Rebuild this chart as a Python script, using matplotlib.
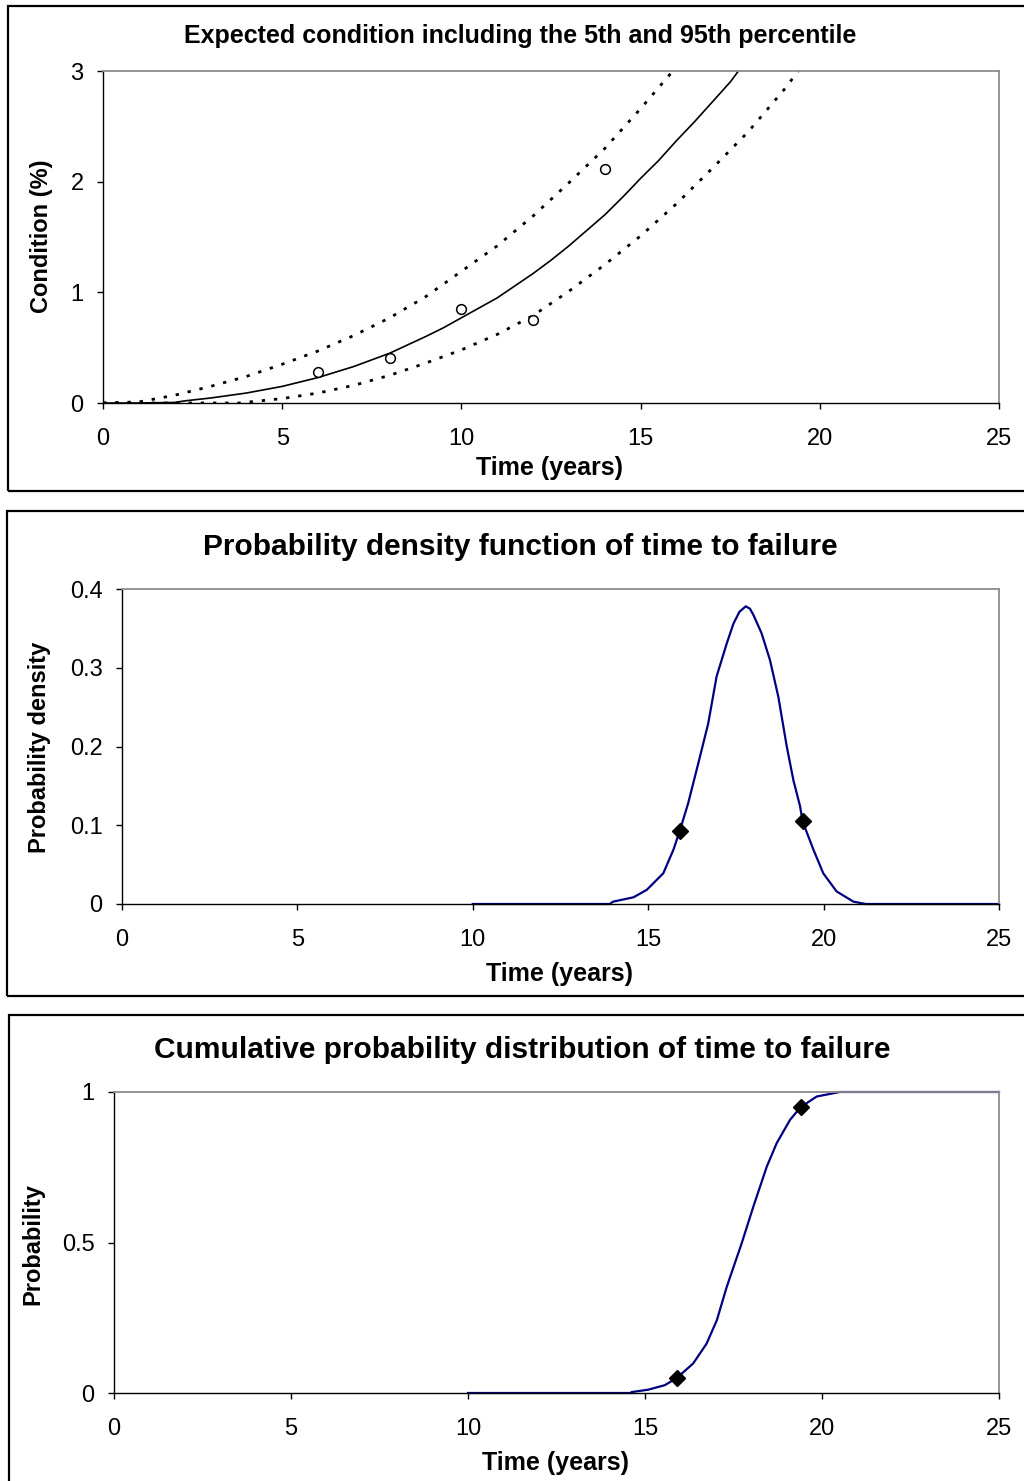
import matplotlib
matplotlib.use("Agg")
import matplotlib.pyplot as plt
from matplotlib.patches import Rectangle

# ---------------- data ----------------
# Panel 1: expected condition with 5th / 95th percentiles
mean_t = [0, 1, 2, 2.3, 3, 4, 5, 6, 7, 8, 9, 9.5, 10, 10.5, 11, 11.5, 12, 12.5,
          13, 13.5, 14, 14.5, 15, 15.5, 16, 16.5, 17, 17.5, 17.8]
mean_c = [0, 0, 0.005, 0.02, 0.045, 0.09, 0.15, 0.23, 0.33, 0.45, 0.60, 0.68,
          0.77, 0.86, 0.95, 1.06, 1.17, 1.29, 1.42, 1.56, 1.70, 1.86, 2.03,
          2.19, 2.37, 2.54, 2.72, 2.90, 3.03]
upper_t = [0, 1, 2, 3, 4, 5, 6, 7, 8, 9, 10, 11, 12, 13, 14, 15, 15.9]
upper_c = [0, 0.01, 0.07, 0.15, 0.24, 0.35, 0.47, 0.61, 0.77, 0.96, 1.19, 1.42,
           1.69, 1.99, 2.30, 2.66, 3.0]
lower_t = [0, 3.8, 5, 6, 7, 8, 9, 10, 11, 12, 13, 14, 15, 16, 17, 18, 19, 19.4]
lower_c = [0, 0, 0.04, 0.09, 0.16, 0.25, 0.36, 0.48, 0.62, 0.79, 1.01, 1.25,
           1.51, 1.80, 2.12, 2.45, 2.83, 3.0]
obs_t = [6, 8, 10, 12, 14]
obs_c = [0.28, 0.41, 0.85, 0.75, 2.11]

# Panel 2: probability density of time to failure
pdf_t = [10, 13.9, 14.0, 14.58, 14.96, 15.43, 15.72, 15.9, 16.14, 16.43, 16.71,
         16.95, 17.24, 17.43, 17.6, 17.78, 17.9, 18.0, 18.23, 18.47, 18.71, 18.95,
         19.14, 19.33, 19.4, 19.71, 19.99, 20.37, 20.85, 21.2, 25]
pdf_p = [0, 0, 0.003, 0.0085, 0.018, 0.039, 0.069, 0.093, 0.128, 0.179, 0.229,
         0.289, 0.331, 0.356, 0.371, 0.378, 0.375, 0.367, 0.344, 0.31, 0.263,
         0.20, 0.157, 0.124, 0.105, 0.069, 0.039, 0.016, 0.003, 0, 0]
pdf_mark_t = [15.9, 19.4]
pdf_mark_p = [0.093, 0.105]

# Panel 3: cumulative probability of time to failure
cdf_t = [10, 14.6, 14.62, 15.09, 15.56, 15.9, 16.36, 16.74, 17.03, 17.31, 17.73,
         18.06, 18.44, 18.72, 19.1, 19.4, 19.85, 20.5, 25]
cdf_p = [0, 0, 0.003, 0.011, 0.026, 0.05, 0.098, 0.164, 0.242, 0.353, 0.497,
         0.619, 0.752, 0.83, 0.908, 0.95, 0.985, 1.0, 1.0]
cdf_mark_t = [15.9, 19.4]
cdf_mark_p = [0.05, 0.95]

x_ticks = [0, 5, 10, 15, 20, 25]
y1_ticks = [0, 1, 2, 3]
y2_ticks = [0, 0.1, 0.2, 0.3, 0.4]
y2_labels = ["0", "0.1", "0.2", "0.3", "0.4"]
y3_ticks = [0, 0.5, 1]
y3_labels = ["0", "0.5", "1"]

titles = ["Expected condition including the 5th and 95th percentile",
          "Probability density function of time to failure",
          "Cumulative probability distribution of time to failure"]
ylabels = ["Condition (%)", "Probability density", "Probability"]
xlabel = "Time (years)"

# ---------------- layout ----------------
W, H = 1024, 1481
plt.rcParams['font.family'] = ['Liberation Sans', 'DejaVu Sans']
fig = plt.figure(figsize=(W / 100, H / 100), dpi=100)
fig.patch.set_facecolor('white')


def fx(x):
    return x / W


def fy(y):
    return 1 - y / H


def make_axes(left, right, top, bottom):
    ax = fig.add_axes([fx(left), fy(bottom), (right - left) / W, (bottom - top) / H])
    for s in ['top', 'right']:
        ax.spines[s].set_color('#8c8c8c')
        ax.spines[s].set_linewidth(1.3)
    for s in ['left', 'bottom']:
        ax.spines[s].set_color('black')
        ax.spines[s].set_linewidth(1.0)
    ax.tick_params(direction='out', length=4, width=1, labelsize=17, colors='black')
    ax.tick_params(axis='x', pad=14)
    ax.tick_params(axis='y', pad=10)
    ax.set_xlim(0, 25)
    ax.set_xticks(x_ticks)
    ax.set_xticklabels([str(v) for v in x_ticks])
    return ax


def border(top, bottom, left):
    fig.add_artist(Rectangle((fx(left), fy(bottom)), (1040 - left) / W, (bottom - top) / H,
                             transform=fig.transFigure, fill=False, ec='black',
                             lw=1.6, clip_on=False))


# Panel 1
border(6, 491, 8)
ax1 = make_axes(103, 999, 71, 403)
ax1.set_ylim(0, 3)
ax1.set_yticks(y1_ticks)
ax1.set_yticklabels([str(v) for v in y1_ticks])
ax1.plot(upper_t, upper_c, color='black', lw=2.0, ls=(0, (1.2, 3.2)))
ax1.plot(lower_t, lower_c, color='black', lw=2.0, ls=(0, (1.2, 3.2)))
ax1.plot(mean_t, mean_c, color='black', lw=1.2)
ax1.plot(obs_t, obs_c, ls='none', marker='o', ms=7, mfc='white', mec='black', mew=1.1)
fig.text(fx(520), fy(36), titles[0], ha='center', va='center', fontsize=18, fontweight='bold')
fig.text(fx(42), fy(236), ylabels[0], ha='center', va='center', rotation=90,
         fontsize=17, fontweight='bold')
fig.text(fx(550), fy(468), xlabel, ha='center', va='center', fontsize=18, fontweight='bold')

# Panel 2
border(511, 996, 7)
ax2 = make_axes(122, 999, 589, 904)
ax2.set_ylim(0, 0.4)
ax2.set_yticks(y2_ticks)
ax2.set_yticklabels(y2_labels)
ax2.plot(pdf_t, pdf_p, color='#000080', lw=1.6, clip_on=False)
ax2.plot(pdf_mark_t, pdf_mark_p, ls='none', marker='D', ms=8, color='black')
fig.text(fx(520), fy(547), titles[1], ha='center', va='center', fontsize=21.5, fontweight='bold')
fig.text(fx(40), fy(747), ylabels[1], ha='center', va='center', rotation=90,
         fontsize=17, fontweight='bold')
fig.text(fx(560), fy(974), xlabel, ha='center', va='center', fontsize=18, fontweight='bold')

# Panel 3
border(1015, 1495, 9)
ax3 = make_axes(114, 999, 1092, 1393)
ax3.set_ylim(0, 1)
ax3.set_yticks(y3_ticks)
ax3.set_yticklabels(y3_labels)
ax3.plot(cdf_t, cdf_p, color='#000080', lw=1.6, clip_on=False)
ax3.plot(cdf_mark_t, cdf_mark_p, ls='none', marker='D', ms=8, color='black')
fig.text(fx(522), fy(1050), titles[2], ha='center', va='center', fontsize=21.5, fontweight='bold')
fig.text(fx(33), fy(1244), ylabels[2], ha='center', va='center', rotation=90,
         fontsize=17, fontweight='bold')
fig.text(fx(556), fy(1463), xlabel, ha='center', va='center', fontsize=18, fontweight='bold')

fig.savefig('out.png', dpi=100, facecolor='white')
